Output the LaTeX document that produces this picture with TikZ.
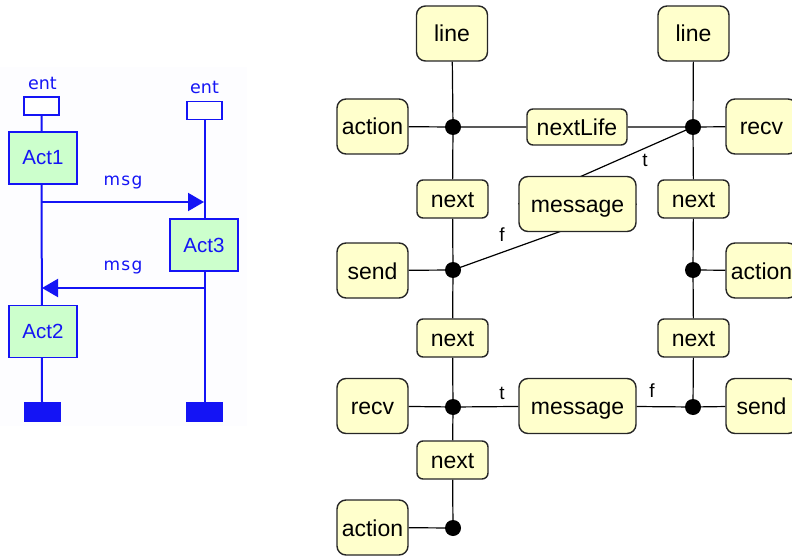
\documentclass[tikz,border=0pt]{standalone}
\usepackage{fontspec}
\setmainfont{Liberation Sans}
\newfontfamily\boxfont{Liberation Sans}
\newfontfamily\seqfont[LetterSpace=8]{DejaVu Sans}
\newfontfamily\entfont{DejaVu Sans}
\usetikzlibrary{arrows.meta,backgrounds}

\definecolor{seqblue}{RGB}{20,20,245}
\definecolor{actgreen}{RGB}{204,255,204}
\definecolor{yel}{RGB}{255,255,204}
\definecolor{panel}{RGB}{253,253,255}

\tikzset{
  blk/.style={draw=black!85, line width=1.4pt, fill=yel, rounded corners=9pt,
    inner sep=0pt, minimum width=71pt, minimum height=55pt,
    text height=17pt, text depth=0pt,
    font=\boxfont\fontsize{23}{26}\selectfont},
  smallblk/.style={blk, minimum height=38pt, rounded corners=6pt},
  jdot/.style={circle, fill=black, inner sep=0pt, minimum size=16pt},
  wire/.style={draw=black, line width=1.2pt},
  lab/.style={inner sep=0pt, font=\boxfont\fontsize{19}{21}\selectfont},
  actbox/.style={draw=seqblue, fill=actgreen, line width=1.8pt, inner sep=0pt,
    minimum width=68pt, minimum height=52pt, text=seqblue,
    font=\boxfont\fontsize{20.5}{22}\selectfont},
  entbox/.style={draw=seqblue, fill=white, line width=1.6pt, inner sep=0pt,
    minimum width=35pt, minimum height=18pt},
  endbox/.style={draw=seqblue, fill=seqblue, inner sep=0pt,
    minimum width=36pt, minimum height=19pt},
  seqline/.style={draw=seqblue, line width=2pt},
  seqlab/.style={text=seqblue, inner sep=0pt, font=\seqfont\fontsize{17}{19}\selectfont},
  entlab/.style={text=seqblue, inner sep=0pt, font=\entfont\fontsize{17.5}{19}\selectfont},
  msgtip/.style={-{Triangle[length=16pt,width=18pt]}}
}

\begin{document}
\begin{tikzpicture}[x=1pt,y=-1pt]
\useasboundingbox (0,0) rectangle (792,556);

% ---------- sequence chart ----------
\begin{scope}[on background layer]
  \fill[panel] (0,67) rectangle (247,426);
\end{scope}

\node[entlab] at (42.5,83) {ent};
\node[entlab] at (204.5,87) {ent};
\node[entbox] (entA) at (41.5,106) {};
\node[entbox] (entB) at (204.5,110.5) {};
\node[actbox] (act1) at (43,158) {Act1};
\node[actbox] (act3) at (204,245) {Act3};
\node[actbox] (act2) at (43,331.5) {Act2};
\node[endbox] (endA) at (42,411.5) {};
\node[endbox] (endB) at (204.5,411.5) {};

\coordinate (m1a) at (42,202);
\coordinate (m1b) at (204,202);
\coordinate (m2a) at (204,288);
\coordinate (m2b) at (42,288);

\begin{scope}[on background layer]
  \draw[seqline] (entA.south) -- (endA.north);
  \draw[seqline] (entB.south) -- (endB.north);
\end{scope}
\draw[seqline, msgtip] (m1a) -- (m1b);
\draw[seqline, msgtip] (m2a) -- (m2b);
\node[seqlab] (lab1) at (123,183) {msg};
\node[seqlab] (lab2) at (123,268) {msg};

% ---------- block graph ----------
\node[blk] (lineL) at (452,33.5) {line};
\node[blk] (lineR) at (693.5,33.5) {line};
\node[blk] (actTL) at (372.5,126.5) {action};
\node[blk, minimum width=100pt, minimum height=36pt, rounded corners=6pt]
  (nextLife) at (577,127) {nextLife};
\node[blk] (recvTR) at (761.5,126.5) {recv};
\node[smallblk] (nextL2) at (452.5,199) {next};
\node[blk, minimum width=117pt] (msgM) at (577.5,204) {message};
\node[smallblk] (nextR2) at (693.5,199) {next};
\node[blk] (sendL) at (372.5,270.5) {send};
\node[blk] (actR) at (761.5,270.5) {action};
\node[smallblk] (nextL4) at (452.5,338) {next};
\node[smallblk] (nextR4) at (693.5,338) {next};
\node[blk] (recvL) at (372.5,406) {recv};
\node[blk, minimum width=117pt] (msgB) at (577.5,406) {message};
\node[blk] (sendR) at (761.5,406) {send};
\node[smallblk] (nextL6) at (452.5,460) {next};
\node[blk] (actBL) at (372.5,527.5) {action};

\node[jdot] (dTL) at (453,127) {};
\node[jdot] (dTR) at (693,127) {};
\node[jdot] (dL3) at (453,270) {};
\node[jdot] (dR3) at (693,270) {};
\node[jdot] (dL5) at (453,407) {};
\node[jdot] (dR5) at (693,407) {};
\node[jdot] (dL7) at (453,528) {};

\begin{scope}[on background layer]
  % left column
  \draw[wire] (lineL) -- (dTL.center) -- (nextL2) -- (dL3.center) -- (nextL4)
    -- (dL5.center) -- (nextL6) -- (dL7.center);
  % right column
  \draw[wire] (lineR) -- (dTR.center) -- (nextR2) -- (dR3.center) -- (nextR4)
    -- (dR5.center);
  % rows
  \draw[wire] (actTL) -- (dTL.center) -- (nextLife) -- (dTR.center) -- (recvTR);
  \draw[wire] (sendL) -- (dL3.center);
  \draw[wire] (dR3.center) -- (actR);
  \draw[wire] (recvL) -- (dL5.center) -- (msgB) -- (dR5.center) -- (sendR);
  \draw[wire] (actBL) -- (dL7.center);
  % crossing branches of the middle message
  \draw[wire] (dTR.center) -- (msgM.west);
  \draw[wire] (msgM.east) -- (dL3.center);
\end{scope}

\node[lab] (t1) at (645,160) {t};
\node[lab] (f1) at (502,235) {f};
\node[lab] (t2) at (502,393) {t};
\node[lab] (f2) at (652,391) {f};
\end{tikzpicture}
\end{document}
